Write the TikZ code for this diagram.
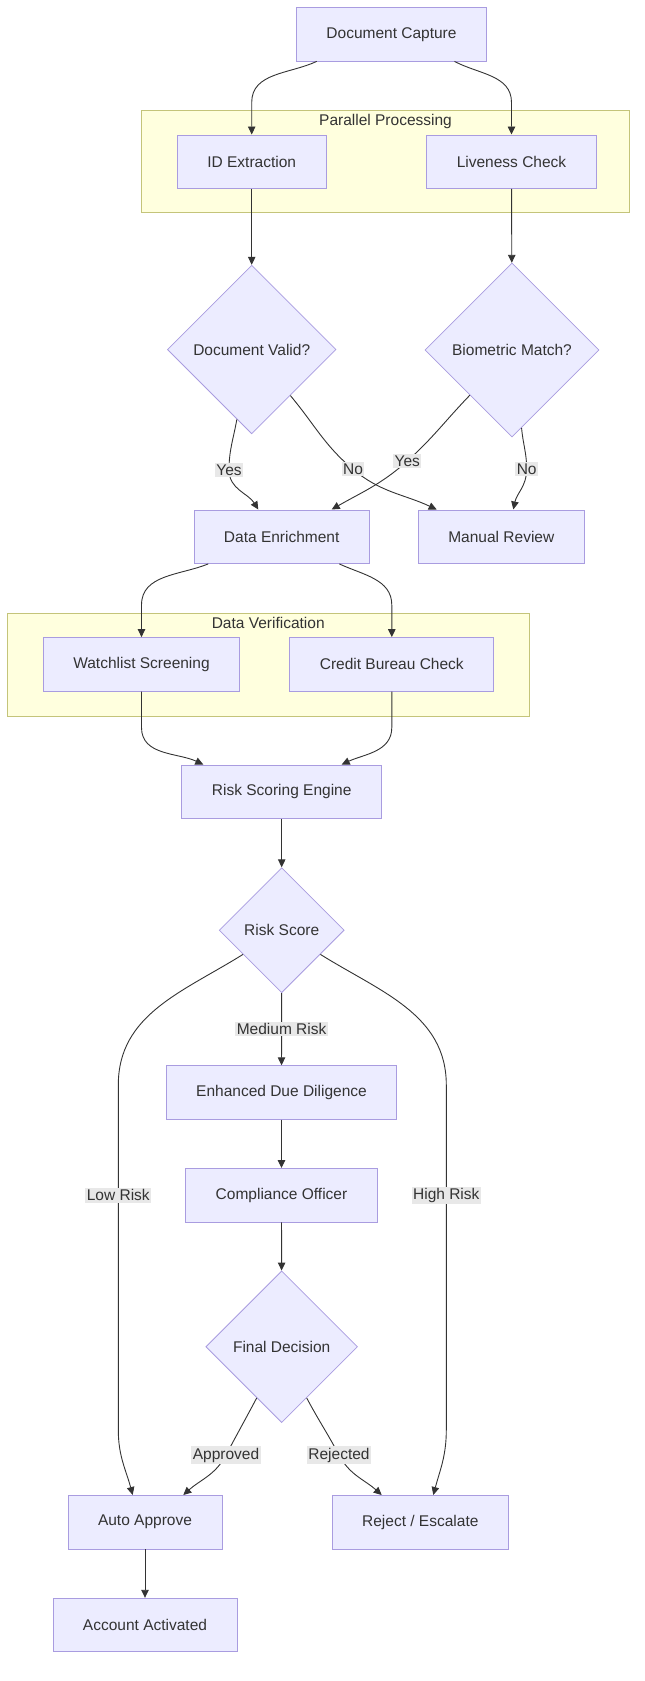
\documentclass[tikz,border=0pt]{standalone}
\usepackage{fontspec}
\setmainfont{Liberation Sans}
\usepackage{tikz}
\usetikzlibrary{shapes.geometric,arrows.meta}
\definecolor{nodefill}{HTML}{ECECFF}
\definecolor{nodeline}{HTML}{A99CE0}
\definecolor{groupfill}{HTML}{FFFFDE}
\definecolor{groupline}{HTML}{C4C47A}
\definecolor{labelfill}{HTML}{E8E8E8}
\definecolor{ink}{HTML}{333333}

\begin{document}
\begin{tikzpicture}[x=1pt,y=1pt,font=\fontsize{15.5}{18}\selectfont,text=ink]
		\useasboundingbox (0,0) rectangle (645,-1681);
		\tikzstyle{block}=[rectangle,draw=nodeline,fill=nodefill,line width=0.9pt,minimum height=53.5pt,inner xsep=30pt]
		\tikzstyle{decision}=[diamond,draw=nodeline,fill=nodefill,line width=0.8pt,aspect=1,inner sep=0pt]
		\tikzstyle{group}=[rectangle,draw=groupline,fill=groupfill,line width=0.9pt]
		\tikzstyle{edgelabel}=[fill=labelfill,inner sep=1.5pt,text=ink]
		\tikzstyle{flow}=[draw=ink,line width=0.9pt,-{Triangle[length=8pt,width=7.5pt]}]
		\node[group,minimum width=487.6pt,minimum height=102pt] (g_pp) at (385.5,-161.7) {};
		\node[anchor=north,inner sep=4pt] (g_pp_title) at (g_pp.north) {Parallel Processing};
		\node[group,minimum width=521.7pt,minimum height=102.7pt] (g_ver) at (268.2,-664.7) {};
		\node[anchor=north,inner sep=4pt] (g_ver_title) at (g_ver.north) {Data Verification};
		\node[block] (g_dc) at (391.5,-34.2) {Document Capture};
		\node[block] (g_id) at (251.7,-161.7) {ID Extraction};
		\node[block] (g_lc) at (511.5,-161.7) {Liveness Check};
		\node[decision,minimum size=168.6pt] (g_dv) at (251.7,-349.5) {Document Valid?};
		\node[decision,minimum size=174pt] (g_bm) at (512,-350) {Biometric Match?};
		\node[block] (g_de) at (281.7,-536.7) {Data Enrichment};
		\node[block] (g_mr) at (501.3,-536.7) {Manual Review};
		\node[block] (g_ws) at (141.5,-664.3) {Watchlist Screening};
		\node[block] (g_cb) at (391.8,-664.3) {Credit Bureau Check};
		\node[block] (g_rse) at (281.7,-791.7) {Risk Scoring Engine};
		\node[decision,minimum size=125pt] (g_rs) at (281.7,-930.2) {Risk Score};
		\node[block] (g_edd) at (281.5,-1092.5) {Enhanced Due Diligence};
		\node[block] (g_co) at (281.5,-1195.2) {Compliance Officer};
		\node[decision,minimum size=151.7pt] (g_fd) at (281.7,-1346.7) {Final Decision};
		\node[block] (g_aa) at (145,-1522.2) {Auto Approve};
		\node[block] (g_re) at (420.3,-1522.2) {Reject / Escalate};
		\node[block] (g_ac) at (145,-1625) {Account Activated};
		\draw[flow] ([xshift=20.7pt]g_dc.south west) to[out=-155,in=90] ([yshift=32pt]g_id.north) -- (g_id.north);
		\draw[flow] ([xshift=-32.5pt]g_dc.south east) to[out=-28,in=90] ([yshift=32pt]g_lc.north) -- (g_lc.north);
		\draw[flow] (g_id) -- (g_dv);
		\draw[flow] (g_lc) -- (g_bm);
		\draw[flow] (g_dv.258) to[out=-100,in=90] (229,-470) node[edgelabel] (l_yes1) {Yes} to[out=-90,in=122] ([xshift=-23.4pt]g_de.north);
		\draw[flow] (g_dv.310) to[out=-50,in=140] (353,-469.3) node[edgelabel] (l_no1) {No} to[out=-40,in=155] ([xshift=-64.6pt]g_mr.north);
		\draw[flow] (g_bm.227) to[out=-134,in=42] (407.3,-461) node[edgelabel] (l_yes2) {Yes} to[out=-138,in=30] ([xshift=50pt]g_de.north);
		\draw[flow] (g_bm.277) to[out=-85,in=90] (526.7,-469.3) node[edgelabel] (l_no2) {No} to[out=-90,in=78] ([xshift=12pt]g_mr.north);
		\draw[flow] ([xshift=-73.4pt]g_de.south) to[out=-158,in=90] ([yshift=32pt]g_ws.north) -- (g_ws.north);
		\draw[flow] ([xshift=57.6pt]g_de.south) to[out=-25,in=90] ([yshift=32pt]g_cb.north) -- (g_cb.north);
		\draw[flow] (g_ws.south) -- ([yshift=-36pt]g_ws.south) to[out=-90,in=155] ([xshift=-78.4pt]g_rse.north);
		\draw[flow] (g_cb.south) -- ([yshift=-36pt]g_cb.south) to[out=-90,in=25] ([xshift=60pt]g_rse.north);
		\draw[flow] (g_rse) -- (g_rs);
		\draw[flow] (g_rs) -- node[edgelabel] (l_med) {Medium Risk} (g_edd);
		\draw[flow] (g_edd) -- (g_co);
		\draw[flow] (g_co) -- (g_fd);
		\draw[flow] (g_rs.212) to[out=-148,in=90] (118.3,-1085) -- (118.3,-1195.3) node[edgelabel] (l_low) {Low Risk} -- (118.3,-1430) to[out=-90,in=105] ([xshift=-12.3pt]g_aa.north);
		\draw[flow] (g_rs.328) to[out=-32,in=90] (446.3,-1085) -- (446.3,-1195.3) node[edgelabel] (l_high) {High Risk} -- (446.3,-1430) to[out=-90,in=75] ([xshift=13pt]g_re.north);
		\draw[flow] (g_fd.244) to[out=-118,in=62] (226,-1455) node[edgelabel] (l_appr) {Approved} to[out=-118,in=42] ([xshift=38.3pt]g_aa.north);
		\draw[flow] (g_fd.296) to[out=-62,in=118] (339,-1455) node[edgelabel] (l_rej) {Rejected} to[out=-62,in=138] ([xshift=-38.6pt]g_re.north);
		\draw[flow] (g_aa) -- (g_ac);
	\end{tikzpicture}
\end{document}
